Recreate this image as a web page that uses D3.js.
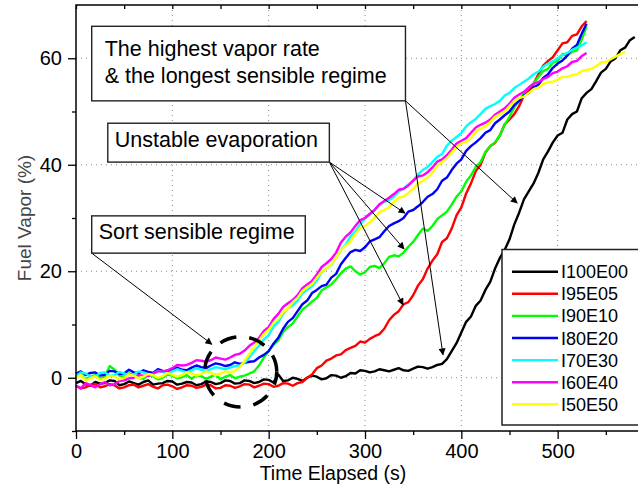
<!DOCTYPE html>
<meta charset="utf-8">
<style>
body { margin: 0; background: #fff; }
svg { display: block; font-family: "Liberation Sans", Arial, sans-serif; }
.grid line { stroke: #888; stroke-width: 1; stroke-dasharray: 1, 4; }
.axis path { display: none; }
.axis line { stroke: #000; stroke-width: 1.3px; }
.axis text { font-size: 20px; fill: #000; }
.curve { fill: none; stroke-width: 2.4px; stroke-linejoin: round; }
.note rect { fill: #fff; stroke: #222; stroke-width: 1.4px; }
.note text { font-size: 21.5px; fill: #000; }
.arrow { stroke: #000; stroke-width: 1px; }
</style>
<body>
<div id="chart"></div>
<script src="https://d3js.org/d3.v7.min.js"></script>
<script>

// sampling times (s)
var times = [0,5,10,15,20,25,30,35,40,45,50,55,60,65,70,75,80,85,90,95,
    100,105,110,115,120,125,130,135,140,145,150,155,160,165,170,175,180,185,190,195,
    200,205,210,215,220,225,230,235,240,245,250,255,260,265,270,275,280,285,290,295,
    300,305,310,315,320,325,330,335,340,345,350,355,360,365,370,375,380,385,390,395,
    400,405,410,415,420,425,430,435,440,445,450,455,460,465,470,475,480,485,490,495,
    500,505,510,515,520,525,530,535,540,545,550,555,560,565,570,575,580];

// fuel vapor (%), one value per sampling time
var i100e00 = [-1,-0.6,-1.2,-1.5,-0.8,-1.1,-1,-0.5,-0.6,-1.4,-1.2,-0.7,-1,-1.3,-0.8,-0.5,-1.3,-1.1,-1,-0.6,
    -0.7,-1.3,-1.1,-0.8,-0.9,-1.4,-1.2,-0.7,-0.8,-1.2,-1,-0.5,-0.6,-1.1,-1,-0.5,-0.6,-1,-0.8,-0.3,
    -0.4,-0.9,0.6,-0.6,-0.5,0,-0.2,-0.6,0,0.4,0.2,-0.3,-0.1,0.5,0.4,0,0.3,0.9,0.8,1.4,
    1.3,1,1.2,1.6,1.4,1.2,1.5,1.8,1.4,1.3,1.7,2.1,2,1.7,2,2.4,2.6,3.5,5,6.5,
    8.5,10.5,11.5,13.5,14.5,16.5,18,20.5,22.5,24,26,28.8,31,33.5,35,36.5,38.5,41,42.5,44.2,
    45.5,46,48.5,49.5,50,52.5,53.5,54.2,55.7,57.3,58,59.4,60,61.5,62,63.4,64];
var i95e05 = [-1.5,-2,-1.8,-1.3,-1.2,-1.8,-1.6,-1.2,-1.4,-2,-1.8,-1.4,-1.3,-1.8,-1.5,-1.2,-1.7,-2,-1.4,-1.3,
    -1.6,-2.1,-1.8,-1.4,-1.5,-1.9,-1.7,-1.3,-1.4,-2,-1.9,-1.4,-1.5,-1.9,-1.6,-1.2,-1.3,-1.8,-1.5,-1.1,
    -1.2,-1.7,-1.5,-1,-1.1,-1.5,-1,-0.8,0,0.6,1.8,2.3,3.2,3.6,4.2,4.4,5.2,5.6,6,6.8,
    6.6,7.3,7.8,8.2,9.2,10.8,11.8,12.5,13.8,14.2,15.5,17.3,18.5,20.5,22,23.2,25.5,26.2,28,30.5,
    32,34.6,36.5,38.8,40,42.3,43.5,44.1,45.5,47.6,48.5,49.5,51,53,54,55.2,57,58.6,59.5,60.2,
    61.5,62.8,63,64.2,64.5,66,67];
var i90e10 = [0,0.6,-0.3,0.2,0.5,-0.2,0.3,2.2,1.5,0.4,0.2,0.8,0.5,0,-0.2,0.5,0.3,-0.3,0,0.6,
    0.4,-0.1,0.1,0.5,-0.2,0.4,0.3,-0.2,0.2,0.6,-0.3,0.2,0.5,-0.1,0.2,0.4,0.8,1.2,2.3,3.8,
    5,6.2,7,8.6,9.5,10.2,11.5,12.8,13.5,14.3,15,16.4,17,17.5,18.5,19.6,20.5,20.9,20,19.4,
    19.8,20.8,21,20.6,21.5,22.7,23,22.8,23.5,24.6,25.5,26.8,28,27.6,28.5,29.8,30.5,31.2,32.5,34,
    35,36.8,38,39.6,40.5,42.4,43.5,44.2,45.5,47.5,49,50.8,52,53.5,54.5,55.2,56.5,57.6,58,59.2,
    59.5,60.8,60.5,61.2,61.5,63.5,66];
var i80e20 = [0.8,1.2,0.5,0.9,1,0.4,0.6,1.3,1.2,0.7,0.8,1.5,1,0.8,1.4,1.1,0.9,1.6,1.3,1.1,
    1.6,1.9,1.5,1.4,1.9,2.3,2,1.8,2.3,2.7,2.5,2.2,2.4,2.9,2.6,2.8,3,3.1,3.8,4.3,
    5,6.4,7.5,9.2,10.5,11.2,12.5,13.8,14.5,15.9,16.5,17.2,17.5,18.8,19.5,21.3,22.5,23.6,24,23.8,
    24.5,25.6,26,26.4,27.5,28.5,29,29.4,30,31.2,31.5,32.2,33,34,34.5,35.4,37,37.6,39,40.2,
    41,42.6,43.5,44.2,45,46,46.5,47.8,48.5,49.3,50,51.2,52,53,53.5,54.6,55,56.3,57,58.2,
    59,59.6,60.5,61.8,62.5,64.6,66.5];
var i70e30 = [0.3,1,0.8,0.2,0.2,0.9,1,0.4,0.5,1.1,0.8,0.5,0.6,1.2,1,0.6,0.7,1.3,1.1,0.8,
    1.2,1.6,1.3,1,1.4,1.8,1.5,1.3,1.6,2,1.8,1.6,1.9,2.2,2.3,2.8,3.8,5,6,7.2,
    8,9.6,10.5,12,13,13.6,14.5,15.8,16.5,17.2,18.3,19.8,20.5,21.2,22.5,24,25,26.6,27.5,28.8,
    30,30.6,31.5,32.5,33,33.4,34,35,35.5,36.3,37,38.2,39,39.6,40.5,41.5,42,43.6,44.5,45.2,
    46,47.2,48,48.6,49.5,50.5,51,51.4,52,53,53.5,54.4,55,55.6,56.2,57,57.5,58.4,59,59.4,
    60,60.6,61,61.6,62,62.4,63];
var i60e40 = [-1.5,-2,-1,-1.4,-1.8,-1.2,-0.8,-1.4,-1.2,-0.6,-0.5,-0.1,0,0.5,0.4,0.3,0.8,1.2,1.2,1.4,
    1.8,2.4,2.3,2.4,2.8,3.3,3.2,3,3.3,3.8,3.6,3.4,3.8,4.3,4.5,5.1,6,6.6,7.5,8.8,
    9.5,11,12,13.3,14,14.6,15.5,16.8,17.5,18.2,19.4,20.8,21.5,22.3,23.5,25.4,26.5,27.3,28.5,29.6,
    30,30.8,31.5,32.6,33.2,33.8,34.5,35.3,35.5,36.1,37,37.8,38,38.6,39.5,40.6,41,41.8,42.8,44,
    44.5,45,46,47,47.5,47.9,48.5,49.4,50,50.6,51.5,52.6,53.2,53.7,54.5,55.2,55.5,56.1,56.5,57.2,
    57.5,58.1,58.5,59.3,59.5,60.4,61];
var i50e50 = [0,0.5,-0.5,-0.1,0.3,-0.4,-0.2,0.4,0.2,-0.3,0,0.6,0.4,-0.1,0.2,0.7,0.5,0,0.3,0.9,
    0.6,0.2,0.5,1,0.8,0.4,0.7,1.2,0.9,0.5,0.8,1.2,1,1.3,2,3.2,4.5,5.8,7,8.2,
    9,10.3,11,12.3,13,14.2,15,16.3,17,17.6,18.8,19.9,20.5,21.3,22.5,24,24.8,25.6,27,28.1,
    28.5,29.2,30,31.1,31.5,32,33,33.8,34,34.7,35.5,36.5,37,37.6,38.5,39.8,40.5,41.2,42.3,43.4,
    44,44.3,45,46.2,46.8,47.2,48,49,49.5,50,51,52,52.5,52.8,53.5,54.2,54.5,55.2,55.5,55.6,
    56,56.5,56.5,56.8,57,57.6,57.8,58,58.5,59.2,59.3,59.8,60.3,60.8,61.2];

var seriesNames = ["I100E00", "I95E05", "I90E10", "I80E20", "I70E30", "I60E40", "I50E50"];
var seriesValues = [i100e00, i95e05, i90e10, i80e20, i70e30, i60e40, i50e50];
var seriesColors = ["#000000", "#ff0000", "#00ff00", "#0000ff", "#00ffff", "#ff00ff", "#ffff00"];

var xTicks = [0, 100, 200, 300, 400, 500];
var xMinorTicks = [50, 150, 250, 350, 450, 550];
var yTicks = [0, 20, 40, 60];
var yMinorTicks = [-10, 10, 30, 50];

// annotation texts and the points (time, vapor) their arrows aim at
var noteLines = [
    ["The highest vapor rate", "& the longest sensible regime"],
    ["Unstable evaporation"],
    ["Sort sensible regime"]
];
var noteTargets = [
    [[458, 32.8], [381, 4.3]],
    [[341.5, 30.9], [340.5, 24.2], [339.5, 13.7]],
    [[141, 6.3]]
];

var width = 638,
    height = 494;

var x = d3.scaleLinear().domain([0, 600]).range([76, 654]),
    y = d3.scaleLinear().domain([-10, 70]).range([431, 5]);

var svg = d3.select("#chart").append("svg")
    .attr("width", width)
    .attr("height", height);

svg.append("defs").append("marker")
    .attr("id", "head")
    .attr("viewBox", "0 0 10 10")
    .attr("refX", 9).attr("refY", 5)
    .attr("markerWidth", 9).attr("markerHeight", 7)
    .attr("markerUnits", "userSpaceOnUse")
    .attr("orient", "auto")
  .append("path")
    .attr("d", "M0,0L10,5L0,10z")
    .attr("fill", "#000");

// dotted grid
var grid = svg.append("g").attr("class", "grid");
grid.selectAll("line.gx")
    .data(xTicks.slice(1))
    .enter().append("line")
    .attr("x1", d => x(d)).attr("x2", d => x(d))
    .attr("y1", y(-10)).attr("y2", y(70));
grid.selectAll("line.gy")
    .data(yTicks)
    .enter().append("line")
    .attr("x1", x(0)).attr("x2", width)
    .attr("y1", d => y(d)).attr("y2", d => y(d));

// curves
var line = d3.line()
    .x(d => x(d[0]))
    .y(d => y(d[1]));

svg.selectAll("path.curve")
    .data(seriesValues)
    .enter().append("path")
    .attr("class", "curve")
    .attr("stroke", (d, i) => seriesColors[i])
    .attr("d", d => line(d.map((v, i) => [times[i], v])));

// frame + axes
svg.append("rect")
    .attr("x", x(0)).attr("y", y(70))
    .attr("width", x(600) - x(0)).attr("height", y(-10) - y(70))
    .attr("fill", "none").attr("stroke", "#000").attr("stroke-width", 1.5);

svg.append("g").attr("class", "axis")
    .attr("transform", "translate(0," + y(-10) + ")")
    .call(d3.axisBottom(x).tickValues(xTicks).tickSize(8).tickPadding(5).tickFormat(d3.format("d")));
svg.append("g").attr("class", "axis")
    .attr("transform", "translate(0," + y(-10) + ")")
    .call(d3.axisBottom(x).tickValues(xMinorTicks).tickSize(4).tickFormat(""));
svg.append("g").attr("class", "axis")
    .attr("transform", "translate(0," + y(70) + ")")
    .call(d3.axisBottom(x).tickValues(xTicks.concat(xMinorTicks)).tickSize(4).tickFormat(""));

svg.append("g").attr("class", "axis")
    .attr("transform", "translate(" + x(0) + ",0)")
    .call(d3.axisLeft(y).tickValues(yTicks).tickSize(8).tickPadding(6).tickFormat(d3.format("d")));
svg.append("g").attr("class", "axis")
    .attr("transform", "translate(" + x(0) + ",0)")
    .call(d3.axisLeft(y).tickValues(yMinorTicks).tickSize(4).tickFormat(""));

svg.append("text")
    .attr("x", 333).attr("y", 480)
    .attr("text-anchor", "middle")
    .style("font-size", "19.5px")
    .text("Time Elapsed (s)");

svg.append("text")
    .attr("transform", "translate(31,218) rotate(-90)")
    .attr("text-anchor", "middle")
    .style("font-size", "19px")
    .style("fill", "#444")
    .text("Fuel Vapor (%)");

// dashed ellipse round the short sensible regime
svg.append("ellipse")
    .attr("cx", x(171)).attr("cy", y(1.1))
    .attr("rx", x(171 + 37.4) - x(171)).attr("ry", y(1.1) - y(7.7))
    .attr("fill", "none").attr("stroke", "#000")
    .attr("stroke-width", 3.5)
    .attr("stroke-dasharray", "17,13")
    .attr("stroke-dashoffset", 4);

// annotation boxes: corners in data units, arrows leave from one corner
var notes = [
    {t0: 16.3, t1: 342, v0: 66, v1: 52, padX: 13, base: [29.5, 56.5], from: "br"},
    {t0: 33, t1: 263, v0: 47.8, v1: 40.5, padX: 7, base: [23.5], from: "br"},
    {t0: 16.3, t1: 238, v0: 30.4, v1: 23.4, padX: 7, base: [23.5], from: "bl"}
];

notes.forEach(function(n, k) {
    var x0 = x(n.t0), x1 = x(n.t1), y0 = y(n.v0), y1 = y(n.v1);
    var ox = n.from == "br" ? x1 : x0;
    svg.append("g").selectAll("line")
        .data(noteTargets[k])
        .enter().append("line")
        .attr("class", "arrow")
        .attr("x1", ox).attr("y1", y1)
        .attr("x2", d => x(d[0])).attr("y2", d => y(d[1]))
        .attr("marker-end", "url(#head)");
    var g = svg.append("g").attr("class", "note");
    g.append("rect")
        .attr("x", x0).attr("y", y0)
        .attr("width", x1 - x0).attr("height", y1 - y0);
    g.selectAll("text")
        .data(noteLines[k])
        .enter().append("text")
        .attr("x", x0 + n.padX)
        .attr("y", (d, i) => y0 + n.base[i])
        .text(d => d);
});

// legend
var legend = svg.append("g");
legend.append("rect")
    .attr("x", 502).attr("y", 249.5)
    .attr("width", 150).attr("height", 175.5)
    .attr("fill", "#fff").attr("stroke", "#222").attr("stroke-width", 1.5);
var rows = legend.selectAll("g.row")
    .data(seriesNames)
    .enter().append("g")
    .attr("transform", (d, i) => "translate(0," + (271.7 + i * 22.1) + ")");
rows.append("line")
    .attr("x1", 512).attr("x2", 558)
    .attr("stroke", (d, i) => seriesColors[i])
    .attr("stroke-width", 2.4);
rows.append("text")
    .attr("x", 561).attr("y", 6.5)
    .style("font-size", "18px")
    .text(d => d);

</script>
